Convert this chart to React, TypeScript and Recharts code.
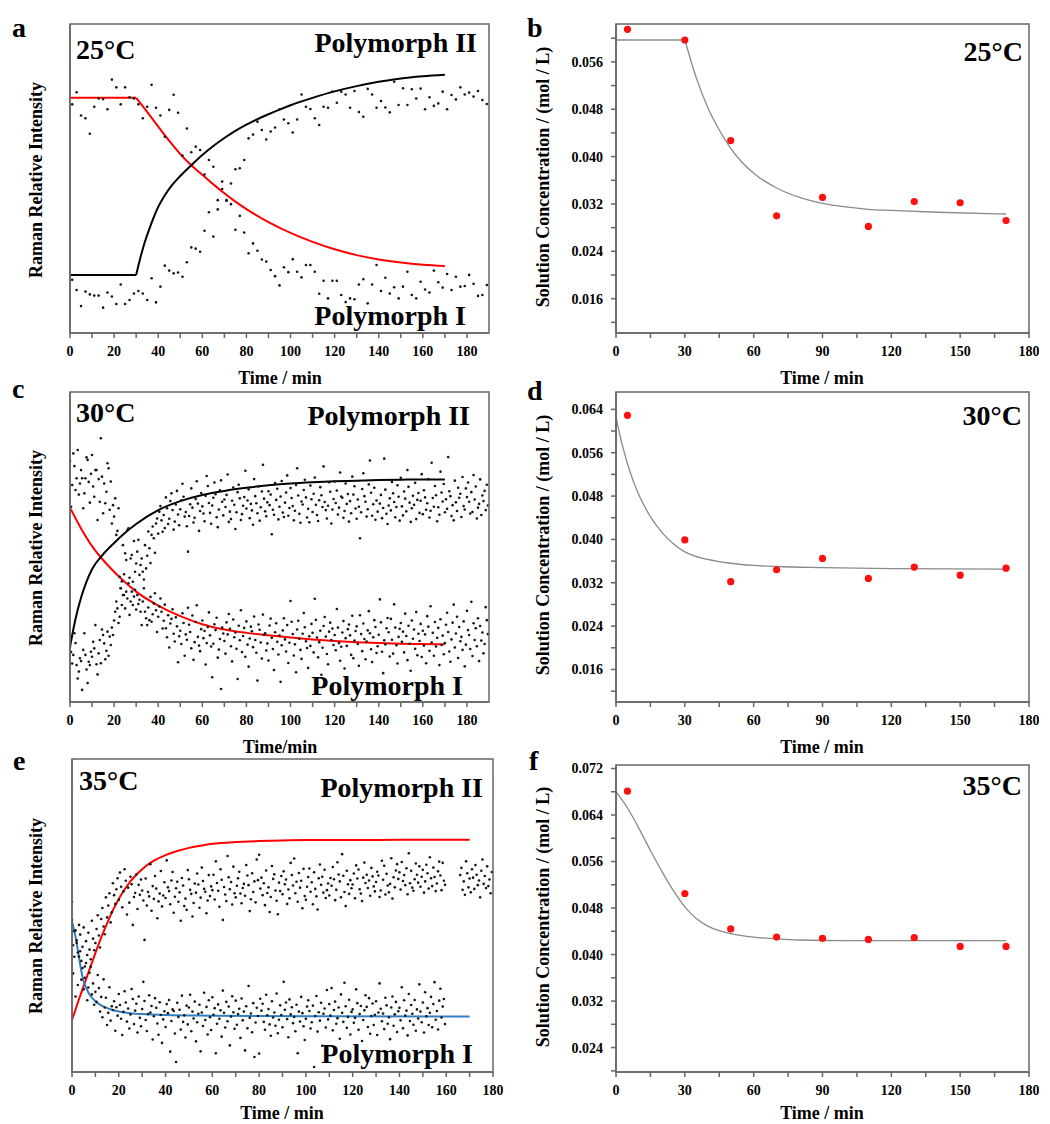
import React from 'react';
import { ComposedChart, Scatter, Line, XAxis, YAxis } from 'recharts';

const SERIF = '"Liberation Serif", "Times New Roman", serif';
const AXIS = '#666';

type Pt = { t: number; v: number };
type Pair = [number, number];

// ---------- (a) 25 °C, Raman intensity sampled every 2 min from t = 1 ----------
const ramanA_I = [
  74.0, 77.9, 70.4, 69.5, 64.5, 73.2, 75.9, 75.7, 72.4, 82.0,
  79.5, 74.0, 79.5, 76.3, 75.9, 74.0, 69.5, 73.2, 80.3, 72.9,
  70.4, 63.5, 72.2, 77.1, 71.3, 57.4, 66.2, 58.5, 60.3, 59.2,
  51.3, 56.0, 53.8, 43.0, 49.0, 43.0, 41.7, 33.4, 37.9, 32.5,
  25.8, 29.0, 26.6, 23.8, 23.1, 20.4, 18.4, 15.4, 21.3, 19.7,
  23.9, 19.8, 18.0, 22.0, 22.0, 19.8, 12.7, 16.9, 11.2, 16.9,
  16.9, 12.3, 10.0, 11.2, 10.9, 15.7, 17.4, 9.6, 15.7, 22.0,
  13.6, 17.9, 12.8, 14.8, 11.2, 15.0, 19.8, 12.3, 11.2, 16.6,
  14.1, 13.1, 20.2, 16.4, 14.7, 19.1, 13.9, 18.2, 15.0, 15.2,
  18.8, 15.9, 12.0, 12.3, 15.5,
];
const ramanA_II = [
  17.2, 13.9, 8.7, 13.4, 12.5, 12.1, 12.1, 8.2, 13.1, 11.8,
  9.4, 15.7, 9.4, 10.7, 12.8, 13.6, 12.8, 10.7, 17.7, 9.9,
  15.0, 21.8, 20.2, 19.3, 19.6, 18.2, 22.9, 27.7, 27.3, 26.3,
  33.1, 39.1, 31.2, 40.0, 46.6, 42.8, 48.4, 53.0, 53.3, 56.0,
  63.0, 64.2, 68.4, 65.7, 62.6, 65.2, 66.5, 72.4, 69.1, 67.9,
  64.9, 69.1, 77.2, 73.2, 72.5, 69.5, 67.3, 73.2, 72.9, 78.1,
  74.5, 78.1, 77.2, 72.9, 78.3, 71.5, 70.0, 79.0, 77.2, 72.9,
  75.1, 73.0, 71.4, 81.3, 73.8, 79.2, 73.8, 78.9, 75.9, 79.1,
  72.4, 76.3, 73.5, 74.3, 78.1, 72.4, 77.0, 75.6, 79.5, 77.2,
  77.8, 76.5, 78.3, 75.4, 74.1,
];
const fitA_I_flat: Pair[] = [[0, 76.1], [30, 76.1]];
const fitA_I: Pair[] = [
  [30, 76.1], [33, 73.4], [36, 70.6], [40, 66.8], [45, 62.2], [50, 57.9], [55, 54.3],
  [60, 51.2], [65, 48.1], [70, 45.2], [75, 42.5], [80, 40.1], [90, 35.9], [100, 32.4],
  [110, 29.5], [120, 27.1], [130, 25.2], [140, 23.8], [150, 22.8], [160, 22.1], [170, 21.7],
];
const fitA_II_flat: Pair[] = [[0, 18.8], [30, 18.8]];
const fitA_II: Pair[] = [
  [30, 18.8], [32, 24.6], [34, 29.6], [36, 33.7], [38, 37.5], [40, 40.8], [43, 44.6],
  [46, 47.6], [50, 50.8], [55, 54.3], [60, 57.6], [65, 60.5], [70, 63.1], [75, 65.4],
  [80, 67.4], [85, 69.2], [90, 70.8], [95, 72.3], [100, 73.7], [110, 76.1], [120, 78.2],
  [130, 79.9], [140, 81.3], [150, 82.4], [160, 83.1], [170, 83.6],
];

// ---------- (c) 30 °C, sampled every 0.5 min from t = 0 ----------
const ramanC_I = [
  77.8, 63.0, 70.0, 80.2, 76.1, 68.4, 72.2, 81.3, 66.9, 70.5, 74.8, 72.2, 62.5, 67.3, 72.2, 78.9, 78.1, 71.0, 64.3, 73.6,
  79.7, 69.5, 66.2, 74.8, 74.8, 58.7, 71.9, 64.6, 85.1, 72.7, 60.9, 70.5, 64.1, 67.8, 77.0, 75.4, 62.0, 71.1, 57.6, 63.5,
  59.8, 65.7, 53.9, 55.2, 62.5, 40.4, 36.7, 38.9, 34.5, 34.5, 30.2, 35.6, 33.4, 38.3, 28.1, 32.4, 35.6, 31.3, 34.0, 36.2,
  29.8, 34.5, 31.6, 33.0, 29.1, 24.8, 32.4, 36.7, 29.1, 27.0, 24.8, 30.5, 26.4, 33.9, 25.9, 28.3, 31.8, 35.1, 29.6, 22.6,
  27.5, 30.8, 33.4, 29.1, 23.7, 26.2, 31.4, 23.8, 20.9, 28.0, 17.6, 25.3, 26.8, 29.9, 22.0, 19.5, 27.3, 24.4, 12.8, 21.2,
  23.0, 18.7, 28.6, 25.5, 14.9, 21.8, 20.1, 30.4, 24.9, 22.6, 17.3, 27.9, 13.6, 19.3, 25.8, 31.2, 21.0, 18.2, 16.4, 23.5,
  26.3, 20.6, 22.9, 12.1, 19.0, 24.2, 28.9, 21.5, 17.9, 8.0, 18.8, 25.1, 23.2, 27.2, 14.3, 16.9, 20.3, 4.2, 24.0, 22.1,
  19.7, 15.6, 25.7, 21.8, 28.4, 23.6, 18.0, 13.1, 26.6, 20.9, 22.4, 17.2, 7.4, 24.6, 19.9, 29.6, 16.1, 21.3, 23.9, 14.6,
  26.0, 18.5, 11.4, 20.5, 24.3, 22.8, 17.7, 27.6, 20.0, 15.9, 6.9, 25.0, 23.3, 19.2, 14.0, 28.2, 21.7, 22.2, 16.6, 18.9,
  13.4, 24.7, 26.9, 20.7, 17.1, 10.3, 22.5, 25.4, 19.4, 15.3, 21.4, 6.5, 18.3, 23.1, 27.0, 20.2, 16.3, 24.8, 12.6, 19.1,
  32.6, 25.9, 21.9, 15.0, 18.6, 9.6, 23.4, 26.2, 20.4, 16.8, 13.9, 22.0, 28.7, 24.1, 19.6, 17.4, 11.0, 21.2, 18.1, 25.2,
  22.3, 16.0, 33.3, 26.5, 20.8, 14.4, 19.3, 23.0, 8.8, 17.5, 24.5, 27.4, 21.1, 15.5, 12.2, 22.7, 25.6, 20.0, 23.7, 18.4,
  21.6, 16.7, 30.0, 24.0, 19.0, 13.3, 17.8, 22.4, 26.1, 10.8, 20.6, 18.1, 23.5, 25.0, 21.5, 15.2, 27.8, 14.1, 19.8, 22.9,
  24.4, 18.7, 11.7, 28.0, 21.9, 16.4, 25.3, 20.3, 13.8, 19.5, 23.1, 29.3, 22.2, 17.0, 12.9, 20.9, 26.4, 24.2, 15.8, 18.0,
  21.7, 33.1, 25.7, 16.2, 9.3, 19.9, 18.6, 23.8, 27.1, 22.5, 14.7, 26.8, 20.1, 15.6, 31.5, 24.0, 18.3, 12.4, 21.0, 23.6,
  25.5, 19.4, 22.7, 16.0, 28.5, 21.3, 13.5, 24.6, 18.8, 10.1, 26.3, 20.4, 23.4, 17.2, 29.0, 15.1, 22.0, 19.7, 25.2, 14.5,
  23.0, 18.2, 21.8, 12.5, 27.7, 24.3, 16.5, 30.9, 19.2, 22.3, 14.9, 25.8, 17.9, 20.7, 23.9, 11.9, 26.7, 18.4, 21.4, 15.4,
  19.0, 24.9, 28.8, 22.6, 16.3, 13.0, 20.2, 25.6, 31.4, 17.6, 22.1, 27.5, 14.2, 24.2, 19.6, 21.0, 16.8, 26.0, 11.5, 18.5,
  29.4, 23.2, 21.6, 17.1, 32.3, 14.8, 25.4, 20.0, 23.8, 18.0, 27.0, 13.2, 24.5, 19.8, 22.4, 15.7, 18.7, 30.6, 26.4, 21.9,
];
const ramanC_II = [
  17.8, 16.1, 12.4, 15.2, 22.2, 19.0, 11.9, 7.6, 9.8, 14.1, 13.2, 3.9, 16.8, 22.2, 15.2, 10.5, 6.1, 13.0, 11.9, 16.2,
  14.6, 19.4, 17.3, 24.8, 12.2, 8.9, 15.7, 20.0, 12.5, 23.4, 21.6, 18.9, 13.8, 16.5, 22.7, 14.9, 21.1, 18.4, 24.0, 21.6,
  26.3, 29.1, 32.4, 30.2, 25.5, 27.5, 36.7, 31.3, 50.6, 41.2, 48.0, 45.8, 55.5, 56.0, 40.1, 46.3, 47.4, 38.8, 51.9, 42.0,
  44.7, 48.5, 52.3, 41.0, 44.2, 46.3, 42.0, 39.5, 50.6, 43.1, 47.2, 55.0, 49.6, 44.8, 53.9, 56.6, 52.8, 48.1, 57.6, 59.2,
  54.3, 61.4, 63.2, 58.6, 54.9, 60.3, 56.1, 66.0, 62.5, 57.4, 59.1, 64.8, 67.3, 61.9, 55.6, 58.2, 63.7, 68.1, 60.5, 57.0,
  62.2, 65.1, 70.4, 66.2, 59.8, 61.3, 56.7, 48.5, 60.0, 63.8, 68.9, 62.7, 57.9, 59.4, 65.5, 71.2, 64.0, 55.2, 61.6, 67.4,
  63.1, 60.8, 58.3, 66.5, 72.9, 69.7, 64.2, 61.0, 57.5, 63.4, 65.9, 70.8, 67.0, 59.6, 56.4, 62.1, 68.3, 71.5, 64.6, 60.2,
  65.3, 62.9, 66.8, 73.4, 58.1, 61.4, 59.0, 64.9, 69.2, 63.6, 55.8, 61.2, 67.7, 70.1, 65.7, 58.7, 60.6, 63.3, 66.1, 74.6,
  62.4, 65.0, 68.6, 59.3, 63.9, 61.8, 57.2, 71.9, 66.4, 64.1, 60.9, 69.5, 58.5, 62.8, 67.9, 76.5, 65.6, 61.5, 59.9, 64.4,
  68.0, 63.5, 66.9, 54.1, 62.0, 60.4, 70.6, 65.2, 68.8, 58.9, 63.0, 66.3, 71.3, 61.1, 59.7, 64.3, 67.6, 73.1, 60.1, 62.6,
  69.0, 65.8, 63.2, 58.6, 61.7, 70.0, 75.4, 66.6, 60.7, 57.8, 64.7, 63.7, 68.4, 71.7, 66.0, 59.5, 62.3, 58.0, 69.8, 65.4,
  61.3, 67.2, 72.4, 63.6, 60.3, 58.4, 65.1, 69.3, 66.7, 62.9, 76.0, 64.5, 61.9, 59.2, 63.3, 70.9, 67.8, 57.6, 62.1, 65.5,
  71.1, 64.2, 68.2, 60.5, 62.7, 74.0, 66.3, 65.9, 59.4, 61.6, 70.5, 63.9, 67.1, 58.2, 64.8, 60.9, 72.7, 66.9, 69.6, 62.4,
  59.1, 65.3, 63.0, 52.8, 61.2, 68.7, 73.8, 66.4, 64.6, 59.8, 62.2, 70.2, 77.9, 67.5, 60.1, 63.8, 69.1, 58.8, 65.0, 61.4,
  71.6, 64.0, 66.8, 59.3, 62.6, 78.5, 68.5, 60.7, 57.4, 63.4, 65.7, 61.8, 71.0, 67.3, 64.5, 59.6, 62.9, 69.9, 66.2, 58.5,
  72.3, 63.1, 60.2, 67.9, 65.6, 61.5, 74.8, 69.4, 64.3, 58.1, 62.5, 66.5, 63.6, 70.7, 59.0, 65.2, 67.4, 61.0, 64.9, 73.5,
  60.6, 68.3, 66.0, 62.0, 64.1, 71.9, 59.5, 61.7, 77.2, 65.8, 63.0, 69.7, 66.7, 58.3, 62.8, 60.4, 74.3, 67.6, 64.7, 70.3,
  61.2, 65.4, 62.3, 79.0, 68.0, 66.4, 60.0, 63.5, 58.6, 71.4, 64.4, 61.6, 69.1, 65.9, 67.2, 59.7, 72.6, 63.2, 62.1, 68.9,
  66.1, 70.8, 64.6, 60.8, 67.7, 61.3, 73.2, 65.3, 69.5, 59.2, 62.7, 63.9, 71.8, 60.3, 66.6, 64.8, 68.1, 61.9, 70.1, 63.4,
];
const fitC_I: Pair[] = [
  [0, 62.7], [5, 56.0], [10, 50.3], [15, 45.8], [20, 42.0], [25, 38.6], [30, 35.6], [40, 31.1],
  [50, 27.7], [60, 25.1], [70, 23.4], [80, 22.3], [90, 21.5], [100, 20.8], [110, 20.2], [120, 19.7],
  [130, 19.3], [140, 19.0], [150, 18.8], [160, 18.7], [170, 18.6],
];
const fitC_II: Pair[] = [
  [0, 17.8], [2.5, 26.8], [5, 33.6], [7.5, 38.8], [10, 42.8], [15, 47.6], [20, 51.3], [25, 54.6],
  [30, 57.4], [40, 61.9], [50, 64.8], [60, 66.8], [70, 68.1], [80, 69.1], [90, 69.9], [100, 70.5],
  [110, 70.9], [120, 71.2], [130, 71.4], [140, 71.6], [150, 71.7], [160, 71.8], [170, 71.8],
];

// ---------- (e) 35 °C, sampled every 0.5 min from t = 0 ----------
const ramanE_I = [
  48.6, 31.5, 45.0, 24.1, 41.3, 27.8, 36.9, 38.6, 29.5, 33.2, 26.4, 30.1, 34.8, 22.9, 27.0, 31.7, 33.6, 24.8, 28.3, 21.5,
  25.6, 22.4, 31.0, 26.8, 19.3, 24.0, 17.5, 29.6, 20.6, 23.7, 15.0, 18.9, 27.1, 16.4, 21.0, 19.8, 22.6, 13.2, 20.7, 18.0,
  24.9, 21.4, 17.0, 11.8, 19.2, 25.8, 22.2, 16.1, 20.3, 13.9, 18.4, 26.5, 23.3, 15.3, 19.6, 21.8, 12.6, 24.1, 17.3, 14.6,
  20.1, 28.8, 22.7, 16.6, 13.1, 18.5, 24.5, 19.0, 21.1, 10.4, 17.8, 23.6, 20.5, 15.5, 11.9, 22.3, 18.2, 9.3, 16.8, 19.4,
  14.4, 21.7, 18.8, 23.0, 6.5, 16.3, 20.0, 19.5, 12.3, 3.2, 22.1, 17.6, 19.9, 13.6, 24.4, 16.0, 18.1, 11.0, 21.2, 15.2,
  20.6, 24.7, 13.0, 19.3, 17.1, 22.5, 9.8, 15.9, 18.6, 21.5, 6.6, 19.0, 14.7, 25.3, 16.6, 20.8, 12.0, 22.9, 17.5, 13.4,
  23.9, 18.3, 20.4, 6.0, 15.4, 21.6, 17.0, 19.7, 11.3, 26.0, 18.9, 14.2, 22.4, 16.2, 20.9, 8.5, 17.7, 24.2, 19.1, 13.8,
  22.8, 15.1, 18.5, 20.2, 10.9, 23.5, 16.5, 19.3, 6.9, 21.0, 14.0, 27.5, 17.3, 18.7, 12.7, 22.0, 4.8, 15.8, 20.5, 17.9,
  5.9, 23.4, 19.6, 21.8, 16.0, 13.5, 24.7, 18.1, 20.1, 15.2, 11.6, 22.6, 17.4, 19.0, 14.8, 25.1, 12.4, 16.7, 21.3, 18.2,
  14.3, 28.8, 19.9, 22.2, 16.9, 11.1, 23.2, 18.4, 20.7, 15.6, 17.6, 13.0, 21.5, 6.0, 19.3, 16.1, 24.0, 18.8, 14.6, 10.2,
  17.0, 20.9, 22.9, 19.5, 13.9, 15.9, 21.2, 1.6, 17.9, 24.3, 12.9, 19.1, 16.4, 22.1, 8.4, 18.6, 20.3, 14.2, 26.2, 16.8,
  21.7, 18.0, 26.8, 13.3, 19.8, 22.5, 15.4, 17.2, 20.6, 10.6, 24.8, 18.9, 16.0, 28.5, 21.0, 14.1, 17.6, 23.1, 12.0, 19.2,
  20.0, 15.7, 17.3, 26.4, 22.0, 13.5, 18.5, 21.1, 9.9, 16.6, 19.7, 24.5, 20.8, 14.4, 23.6, 12.2, 17.9, 21.9, 15.0, 18.3,
  22.6, 11.8, 19.0, 28.3, 20.2, 16.2, 18.7, 13.7, 23.7, 21.3, 15.4, 17.5, 10.5, 20.6, 24.1, 14.8, 18.4, 22.4, 12.8, 19.4,
  20.5, 16.5, 27.1, 14.0, 22.9, 18.0, 19.6, 11.7, 24.9, 16.3, 21.4, 18.6, 15.1, 23.0, 13.2, 20.0, 17.1, 28.0, 19.3, 15.9,
  22.2, 12.6, 25.5, 17.8, 20.4, 15.0, 18.9, 24.0, 14.3, 21.7, 28.7, 16.7, 19.5, 13.6, 22.8, 26.6, 17.4, 20.9, 23.3, 15.3,
];
const ramanE_II = [
  54.4, 40.5, 36.8, 45.3, 42.1, 38.2, 47.0, 43.9, 35.5, 40.0, 46.2, 33.7, 41.8, 37.4, 44.5, 39.1, 36.0, 48.3, 42.6, 38.9,
  41.2, 45.7, 50.1, 43.6, 39.8, 48.9, 52.4, 46.5, 44.0, 55.8, 49.4, 53.2, 57.1, 47.8, 51.0, 60.3, 56.5, 53.7, 58.4, 61.9,
  55.0, 63.7, 59.2, 52.6, 57.7, 64.8, 61.1, 50.3, 58.9, 54.1, 62.4, 60.0, 47.0, 55.9, 57.2, 63.1, 52.1, 59.8, 56.6, 61.5,
  58.0, 54.8, 42.2, 61.8, 53.2, 57.5, 56.1, 66.4, 51.5, 59.4, 55.3, 62.6, 58.6, 49.1, 54.5, 57.0, 64.2, 52.9, 56.4, 60.6,
  55.6, 67.6, 59.0, 57.8, 53.6, 61.2, 63.9, 50.9, 56.0, 58.7, 60.8, 54.4, 57.4, 48.3, 62.0, 59.6, 53.0, 55.4, 51.8, 64.5,
  61.6, 58.2, 56.9, 49.7, 54.0, 60.2, 57.3, 63.4, 59.9, 52.5, 55.7, 65.3, 61.0, 58.5, 57.6, 50.7, 54.8, 62.9, 56.2, 59.3,
  58.1, 63.0, 55.1, 67.3, 60.4, 57.9, 52.8, 64.8, 61.4, 48.6, 59.1, 56.7, 54.6, 69.0, 62.2, 58.4, 60.7, 53.5, 65.6, 57.1,
  55.8, 59.5, 61.9, 64.0, 57.0, 53.9, 58.8, 60.1, 56.3, 66.1, 62.8, 59.7, 51.4, 55.2, 63.5, 57.5, 60.9, 54.2, 67.9, 61.3,
  69.4, 58.6, 62.1, 56.5, 60.3, 53.3, 64.4, 57.2, 59.0, 51.1, 55.9, 65.8, 61.7, 63.2, 58.0, 54.7, 50.4, 60.5, 57.8, 62.6,
  56.8, 64.1, 60.0, 61.5, 53.7, 58.3, 55.5, 66.8, 62.9, 59.6, 68.2, 57.1, 60.8, 54.4, 63.6, 58.9, 61.1, 52.3, 64.9, 56.2,
  55.0, 59.2, 62.3, 65.0, 57.6, 60.6, 53.6, 63.8, 58.5, 56.1, 51.9, 61.9, 66.3, 59.8, 62.4, 57.3, 64.6, 55.6, 58.1, 60.2,
  56.4, 62.0, 59.5, 65.5, 61.6, 54.9, 58.2, 67.0, 63.1, 60.9, 55.8, 69.6, 62.7, 57.5, 53.0, 64.3, 60.0, 56.9, 61.3, 58.7,
  59.9, 63.4, 55.5, 66.0, 61.8, 64.7, 58.4, 57.0, 54.6, 62.1, 66.9, 60.4, 63.0, 58.8, 61.2, 56.3, 65.2, 62.5, 59.3, 57.7,
  60.7, 64.0, 62.8, 55.9, 58.0, 67.5, 61.4, 65.9, 56.7, 63.3, 59.6, 57.4, 60.1, 68.3, 55.4, 62.2, 59.0, 64.4, 66.4, 61.7,
  63.8, 58.3, 67.1, 61.0, 62.9, 59.7, 65.1, 56.8, 69.9, 60.3, 64.3, 58.9, 57.9, 61.6, 66.6, 63.0, 60.5, 65.7, 59.2, 62.4,
  64.6, 57.3, 60.9, 66.2, 63.5, 58.6, 68.6, 61.9, 59.4, 65.3, 62.3, 57.8, 60.2, 64.1, 67.2, 62.8, 58.1, 66.8, 61.1, 59.8,
];
// second run of Polymorph II readings, from t = 166 min
const ramanE_II_late = [
  62.9, 65.2, 58.2, 60.9, 56.6, 67.3, 63.5, 59.0, 61.8, 57.4, 64.8, 62.1, 58.5, 66.1,
  63.0, 59.7, 61.2, 55.8, 64.3, 67.9, 60.1, 62.6, 58.8, 65.7, 59.4, 61.5, 57.1, 63.9,
];
const fitE_I: Pair[] = [
  [0, 48.0], [1, 45.0], [2, 41.2], [3, 36.5], [4, 32.2], [5, 29.0], [6, 27.0], [7, 25.4], [8, 24.2],
  [10, 22.6], [12, 21.5], [14, 20.7], [17, 19.9], [20, 19.3], [25, 18.8], [30, 18.5], [40, 18.2],
  [60, 18.0], [100, 17.8], [170, 17.7],
];
const fitE_II: Pair[] = [
  [0, 16.6], [2.5, 22.2], [5, 27.5], [7.5, 32.8], [10, 38.0], [12.5, 43.0], [15, 47.5], [17.5, 51.7],
  [20, 55.3], [22.5, 58.3], [25, 60.9], [27.5, 63.0], [30, 64.8], [35, 67.5], [40, 69.3], [45, 70.6],
  [50, 71.6], [55, 72.3], [60, 72.9], [70, 73.5], [80, 73.8], [90, 74.0], [100, 74.1], [120, 74.1],
  [140, 74.2], [170, 74.2],
];

// ---------- solution concentration (mol / L) ----------
const concB: Pair[] = [[5, 0.0615], [30, 0.0597], [50, 0.0427], [70, 0.0300], [90, 0.0331], [110, 0.0282], [130, 0.0324], [150, 0.0322], [170, 0.0292]];
const fitB_flat: Pair[] = [[0, 0.0597], [30, 0.0597]];
const fitB: Pair[] = [
  [30, 0.0597], [35, 0.0533], [40, 0.0483], [45, 0.0445], [50, 0.0414], [55, 0.039], [60, 0.0372],
  [70, 0.0347], [80, 0.0331], [90, 0.0321], [100, 0.0315], [110, 0.0311], [120, 0.0309], [140, 0.0306], [170, 0.0303],
];
const concD: Pair[] = [[5, 0.0629], [30, 0.0399], [50, 0.0322], [70, 0.0344], [90, 0.0365], [110, 0.0328], [130, 0.0349], [150, 0.0334], [170, 0.0347]];
const fitD: Pair[] = [
  [0, 0.0625], [2.5, 0.0578], [5, 0.054], [7.5, 0.0508], [10, 0.0482], [15, 0.0442], [20, 0.0413], [25, 0.0392],
  [30, 0.0377], [40, 0.0363], [50, 0.0356], [60, 0.0352], [70, 0.035], [90, 0.0348], [120, 0.0346], [170, 0.0345],
];
const concF: Pair[] = [[5, 0.0681], [30, 0.0505], [50, 0.0444], [70, 0.043], [90, 0.0428], [110, 0.0426], [130, 0.0429], [150, 0.0414], [170, 0.0414]];
const fitF: Pair[] = [
  [0, 0.068], [5, 0.0652], [10, 0.0617], [15, 0.0579], [20, 0.0543], [25, 0.051], [30, 0.0482], [35, 0.0462],
  [40, 0.0449], [45, 0.0441], [50, 0.0436], [60, 0.043], [70, 0.0427], [80, 0.0425], [100, 0.0424], [170, 0.0424],
];

// axis ticks
const ramanTicks = [0, 10, 20, 30, 40, 50, 60, 70, 80, 90, 100, 110, 120, 130, 140, 150, 160, 170, 180];
const concTimeTicks = [0, 15, 30, 45, 60, 75, 90, 105, 120, 135, 150, 165, 180];
const concMajorB = [0.016, 0.024, 0.032, 0.04, 0.048, 0.056];
const concMinorB = [0.012, 0.02, 0.028, 0.036, 0.044, 0.052, 0.06];
const concMajorD = [0.016, 0.024, 0.032, 0.04, 0.048, 0.056, 0.064];
const concMinorD = [0.012, 0.02, 0.028, 0.036, 0.044, 0.052, 0.06];
const concMajorF = [0.024, 0.032, 0.04, 0.048, 0.056, 0.064, 0.072];
const concMinorF = [0.02, 0.028, 0.036, 0.044, 0.052, 0.06, 0.068];

const sampled = (t0: number, dt: number, vals: number[]): Pt[] => vals.map((v, i) => ({ t: t0 + i * dt, v }));
const pairs = (p: Pair[]): Pt[] => p.map(([t, v]) => ({ t, v }));

type Frame = { x0: number; x1: number; y0: number; y1: number };
type Curve = { pts: Pair[]; color: string; width: number; shape: 'linear' | 'monotone' };

const Speck = (p: { cx?: number; cy?: number }) => <circle cx={p.cx} cy={p.cy} r={1.3} fill="#161616" />;
const RedDot = (p: { cx?: number; cy?: number }) => <circle cx={p.cx} cy={p.cy} r={3.6} fill="#ff1010" />;

const tickFont = { fill: '#000', fontSize: 14, fontWeight: 700, fontFamily: SERIF };

function Panel(props: {
  frame: Frame;
  xMax: number;
  xTicks: number[];
  labelEvery: number;
  yDomain: [number, number];
  yMajor?: number[];
  yMinor?: number[];
  clouds?: Pt[][];
  curves: Curve[];
  dots?: Pair[];
}) {
  const { frame, xMax, xTicks, labelEvery, yDomain, yMajor, yMinor, clouds = [], curves, dots } = props;
  const yw = yMajor ? 90 : 60;
  const xh = 40;
  const w = frame.x1 - frame.x0 + yw + 10;
  const h = frame.y1 - frame.y0 + 10 + xh;
  const yTicks = yMajor ? [...yMajor, ...(yMinor || [])].sort((a, b) => a - b) : undefined;
  return (
    <div style={{ position: 'absolute', left: frame.x0 - yw, top: frame.y0 - 10 }}>
      <ComposedChart width={w} height={h} margin={{ top: 10, right: 10, bottom: 0, left: 0 }} style={{ fontFamily: SERIF }}>
        <XAxis
          dataKey="t"
          type="number"
          domain={[0, xMax]}
          ticks={xTicks}
          interval={0}
          allowDataOverflow
          tickFormatter={(v: number) => (v % labelEvery === 0 ? String(v) : '')}
          height={xh}
          stroke={AXIS}
          strokeWidth={1.5}
          tickSize={5}
          tickMargin={8}
          tick={tickFont}
        />
        <YAxis
          dataKey="v"
          type="number"
          domain={yDomain}
          allowDataOverflow
          width={yw}
          stroke={AXIS}
          strokeWidth={1.5}
          ticks={yTicks}
          interval={0}
          tickSize={5}
          tickMargin={8}
          tick={yMajor ? tickFont : false}
          tickLine={!!yMajor}
          tickFormatter={(v: number) => (yMajor && yMajor.includes(v) ? v.toFixed(3) : '')}
        />
        {clouds.map((c, i) => (
          <Scatter key={'s' + i} data={c} shape={Speck} isAnimationActive={false} />
        ))}
        {curves.map((c, i) => (
          <Line
            key={'l' + i}
            data={pairs(c.pts)}
            dataKey="v"
            type={c.shape}
            stroke={c.color}
            strokeWidth={c.width}
            dot={false}
            activeDot={false}
            isAnimationActive={false}
          />
        ))}
        {dots && <Scatter data={pairs(dots)} shape={RedDot} isAnimationActive={false} />}
      </ComposedChart>
    </div>
  );
}

const frameA: Frame = { x0: 70, x1: 489, y0: 24, y1: 333 };
const frameB: Frame = { x0: 616, x1: 1029, y0: 24, y1: 333 };
const frameC: Frame = { x0: 70, x1: 489, y0: 392, y1: 702 };
const frameD: Frame = { x0: 616, x1: 1029, y0: 392, y1: 702 };
const frameE: Frame = { x0: 72, x1: 493, y0: 759, y1: 1072 };
const frameF: Frame = { x0: 616, x1: 1029, y0: 765, y1: 1072 };
const frames = [frameA, frameB, frameC, frameD, frameE, frameF];

const RED = '#ff0000';
const BLACK = '#000000';
const BLUE = '#2f7fc1';
const GREY = '#8a8a8a';

const big = { fontFamily: SERIF, fontWeight: 700, fontSize: 28, fill: '#000' } as const;
const axisTitle = { fontFamily: SERIF, fontWeight: 700, fontSize: 18, fill: '#000' } as const;

function YTitle({ x, y, text }: { x: number; y: number; text: string }) {
  return (
    <text transform={`translate(${x},${y}) rotate(-90)`} textAnchor="middle" dominantBaseline="central" style={axisTitle}>
      {text}
    </text>
  );
}

function XTitle({ x, y, text }: { x: number; y: number; text: string }) {
  return (
    <text x={x} y={y} textAnchor="middle" dominantBaseline="central" style={axisTitle}>
      {text}
    </text>
  );
}

export default function App() {
  return (
    <div style={{ position: 'absolute', left: 0, top: 0, width: 1050, height: 1124, background: '#fff', overflow: 'hidden' }}>
      <Panel
        frame={frameA}
        xMax={190}
        xTicks={ramanTicks}
        labelEvery={20}
        yDomain={[0, 100]}
        clouds={[sampled(1, 2, ramanA_I), sampled(1, 2, ramanA_II)]}
        curves={[
          { pts: fitA_I_flat, color: RED, width: 2, shape: 'linear' },
          { pts: fitA_I, color: RED, width: 2, shape: 'monotone' },
          { pts: fitA_II_flat, color: BLACK, width: 2, shape: 'linear' },
          { pts: fitA_II, color: BLACK, width: 2, shape: 'monotone' },
        ]}
      />
      <Panel
        frame={frameB}
        xMax={180}
        xTicks={concTimeTicks}
        labelEvery={30}
        yDomain={[0.0102, 0.0624]}
        yMajor={concMajorB}
        yMinor={concMinorB}
        curves={[
          { pts: fitB_flat, color: GREY, width: 1.3, shape: 'linear' },
          { pts: fitB, color: GREY, width: 1.3, shape: 'monotone' },
        ]}
        dots={concB}
      />
      <Panel
        frame={frameC}
        xMax={190}
        xTicks={ramanTicks}
        labelEvery={20}
        yDomain={[0, 100]}
        clouds={[sampled(0, 0.5, ramanC_I), sampled(0, 0.5, ramanC_II)]}
        curves={[
          { pts: fitC_I, color: RED, width: 2, shape: 'monotone' },
          { pts: fitC_II, color: BLACK, width: 2, shape: 'monotone' },
        ]}
      />
      <Panel
        frame={frameD}
        xMax={180}
        xTicks={concTimeTicks}
        labelEvery={30}
        yDomain={[0.01, 0.0672]}
        yMajor={concMajorD}
        yMinor={concMinorD}
        curves={[{ pts: fitD, color: GREY, width: 1.3, shape: 'monotone' }]}
        dots={concD}
      />
      <Panel
        frame={frameE}
        xMax={180}
        xTicks={ramanTicks}
        labelEvery={20}
        yDomain={[0, 100]}
        clouds={[sampled(0, 0.5, ramanE_I), sampled(0, 0.5, ramanE_II), sampled(166, 0.5, ramanE_II_late)]}
        curves={[
          { pts: fitE_II, color: RED, width: 2, shape: 'monotone' },
          { pts: fitE_I, color: BLUE, width: 2, shape: 'monotone' },
        ]}
      />
      <Panel
        frame={frameF}
        xMax={180}
        xTicks={concTimeTicks}
        labelEvery={30}
        yDomain={[0.0198, 0.0726]}
        yMajor={concMajorF}
        yMinor={concMinorF}
        curves={[{ pts: fitF, color: GREY, width: 1.3, shape: 'monotone' }]}
        dots={concF}
      />

      <svg width={1050} height={1124} style={{ position: 'absolute', left: 0, top: 0, pointerEvents: 'none' }}>
        {/* closed plot frames */}
        {frames.map((f, i) => (
          <rect key={i} x={f.x0} y={f.y0} width={f.x1 - f.x0} height={f.y1 - f.y0} fill="none" stroke={AXIS} strokeWidth={1.5} />
        ))}

        {/* panel letters */}
        <text x={12} y={37} style={big}>a</text>
        <text x={527} y={37} style={big}>b</text>
        <text x={12} y={398} style={big}>c</text>
        <text x={527} y={400} style={big}>d</text>
        <text x={13} y={770} style={big}>e</text>
        <text x={529} y={770} style={big}>f</text>

        {/* in-plot annotations */}
        <text x={76} y={59} style={big}>25°C</text>
        <text x={477} y={52} textAnchor="end" style={big}>Polymorph II</text>
        <text x={466} y={325} textAnchor="end" style={big}>Polymorph I</text>
        <text x={1023} y={61} textAnchor="end" style={big}>25°C</text>

        <text x={76} y={422} style={big}>30°C</text>
        <text x={470} y={425} textAnchor="end" style={big}>Polymorph II</text>
        <text x={463} y={695} textAnchor="end" style={big}>Polymorph I</text>
        <text x={1022} y={425} textAnchor="end" style={big}>30°C</text>

        <text x={79} y={790} style={big}>35°C</text>
        <text x={483} y={797} textAnchor="end" style={big}>Polymorph II</text>
        <text x={473} y={1063} textAnchor="end" style={big}>Polymorph I</text>
        <text x={1022} y={795} textAnchor="end" style={big}>35°C</text>

        {/* axis titles */}
        <YTitle x={36} y={180} text="Raman Relative Intensity" />
        <YTitle x={36} y={548} text="Raman Relative Intensity" />
        <YTitle x={36} y={916} text="Raman Relative Intensity" />
        <YTitle x={543} y={177} text="Solution Concentration / (mol / L)" />
        <YTitle x={543} y={545} text="Solution Concentration / (mol / L)" />
        <YTitle x={543} y={917} text="Solution Concentration / (mol / L)" />
        <XTitle x={280} y={378} text="Time / min" />
        <XTitle x={822} y={378} text="Time / min" />
        <XTitle x={280} y={747} text="Time/min" />
        <XTitle x={822} y={747} text="Time / min" />
        <XTitle x={282} y={1113} text="Time / min" />
        <XTitle x={822} y={1113} text="Time / min" />
      </svg>
    </div>
  );
}
